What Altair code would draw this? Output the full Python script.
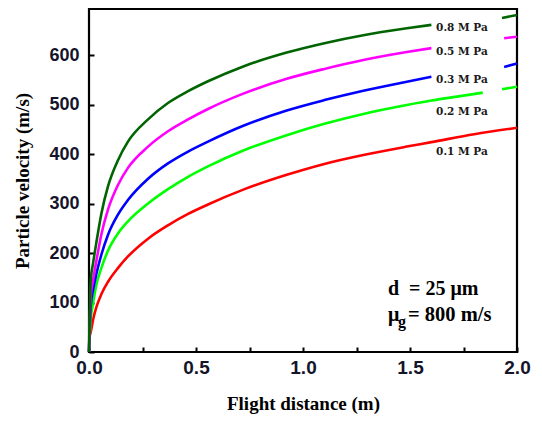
import altair as alt
import pandas as pd

# ---- data ----
series_names = ["0.1 M Pa", "0.2 M Pa", "0.3 M Pa", "0.5 M Pa", "0.8 M Pa"]
series_colors = ["#ff0000", "#00ff00", "#0000ff", "#ff00ff", "#006400"]

dist = [0, 0.008, 0.019, 0.034, 0.058, 0.089, 0.136, 0.182, 0.276, 0.369,
        0.463, 0.556, 0.721, 0.924, 1.1, 1.282, 1.485, 1.6]

v_01 = [30, 40, 65, 90, 117, 142, 170, 193, 229, 256, 279, 298, 328, 358, 380, 398, 415, 424]
v_02 = [0, 65, 98, 135, 170, 205, 240, 264, 300, 329, 354, 375, 407, 438, 461, 481, 499, 508]
v_03 = [0, 92, 125, 157, 197, 237, 278, 307, 350, 381, 405, 425, 457, 488, 509, 528, 546, 556]
v_05 = [0, 112, 145, 183, 238, 288, 338, 372, 415, 446, 470, 491, 522, 552, 572, 590, 606, 614]
v_08 = [0, 145, 179, 220, 280, 335, 388, 425, 470, 503, 527, 547, 577, 605, 624, 640, 654, 661]

# continuation of each curve (same segment) and the short end piece after the label gap
cont_x = {"0.1 M Pa": [1.8, 2.0], "0.2 M Pa": [1.72, 1.84],
          "0.3 M Pa": [], "0.5 M Pa": [], "0.8 M Pa": []}
cont_v = {"0.1 M Pa": [440, 453], "0.2 M Pa": [516, 524],
          "0.3 M Pa": [], "0.5 M Pa": [], "0.8 M Pa": []}
tail_x = {"0.1 M Pa": [], "0.2 M Pa": [1.93, 2.0], "0.3 M Pa": [1.94, 2.0],
          "0.5 M Pa": [1.94, 2.0], "0.8 M Pa": [1.93, 2.0]}
tail_v = {"0.1 M Pa": [], "0.2 M Pa": [531, 536], "0.3 M Pa": [576, 583],
          "0.5 M Pa": [634, 637], "0.8 M Pa": [675, 681]}

label_y = [404, 485, 549, 606, 655]

x_ticks = [0, 0.25, 0.5, 0.75, 1.0, 1.25, 1.5, 1.75, 2.0]
y_ticks = list(range(0, 700, 50))

# ---- build table ----
rows = []
for name, vals in zip(series_names, [v_01, v_02, v_03, v_05, v_08]):
    for xx, vv in zip(dist + cont_x[name], vals + cont_v[name]):
        rows.append({"series": name, "seg": name + "a", "x": xx, "v": vv})
    for xx, vv in zip(tail_x[name], tail_v[name]):
        rows.append({"series": name, "seg": name + "b", "x": xx, "v": vv})
df = pd.DataFrame(rows)

labels_df = pd.DataFrame({"series": series_names, "x": [1.622] * 5, "v": label_y})

tick_color = "#14142a"
xscale = alt.Scale(domain=[0, 2], nice=False, zero=False)
yscale = alt.Scale(domain=[0, 693], nice=False)
cscale = alt.Scale(domain=series_names, range=series_colors)

lines = alt.Chart(df).mark_line(strokeWidth=2.6, interpolate="monotone").encode(
    x=alt.X("x:Q", scale=xscale,
            axis=alt.Axis(values=x_ticks, format=".1f", tickSize=5, offset=-5,
                          labelExpr="datum.value % 0.5 == 0 ? datum.label : ''",
                          domain=False, grid=False, tickColor="black", tickWidth=2,
                          labelFont="Liberation Sans", labelFontWeight="bold",
                          labelFontSize=19, labelColor=tick_color, labelPadding=6,
                          labelFlush=False,
                          title="Flight distance (m)", titleFont="Liberation Serif",
                          titleFontWeight="bold", titleFontSize=19, titleColor="black",
                          titlePadding=17)),
    y=alt.Y("v:Q", scale=yscale,
            axis=alt.Axis(values=y_ticks, tickSize=5, offset=-5,
                          labelExpr="datum.value % 100 == 0 ? datum.label : ''",
                          domain=False, grid=False, tickColor="black", tickWidth=2,
                          labelFont="Liberation Sans", labelFontWeight="bold",
                          labelFontSize=18, labelColor=tick_color, labelPadding=10,
                          labelFlush=False,
                          title="Particle velocity (m/s)", titleFont="Liberation Serif",
                          titleFontWeight="bold", titleFontSize=19, titleColor="black",
                          titlePadding=16)),
    color=alt.Color("series:N", scale=cscale, legend=None),
    detail="seg:N",
)

series_text = alt.Chart(labels_df).mark_text(
    align="left", baseline="middle", font="DejaVu Serif", fontWeight="bold",
    fontSize=10.5, color="#1a1a1a"
).encode(x=alt.X("x:Q", scale=xscale), y=alt.Y("v:Q", scale=yscale), text="series:N")

ann_font = dict(font="Liberation Serif", fontWeight="bold", color="black",
                align="left", baseline="alphabetic")
ann_df = pd.DataFrame({"t": [0]})
ann1 = alt.Chart(ann_df).mark_text(fontSize=20, **ann_font).encode(
    x=alt.value(299), y=alt.value(286), text=alt.value("d\u00a0\u00a0= 25 μm"))
ann2 = alt.Chart(ann_df).mark_text(fontSize=20, **ann_font).encode(
    x=alt.value(299), y=alt.value(312), text=alt.value("μ"))
ann3 = alt.Chart(ann_df).mark_text(fontSize=16, **ann_font).encode(
    x=alt.value(309), y=alt.value(318), text=alt.value("g"))
ann4 = alt.Chart(ann_df).mark_text(fontSize=20.5, **ann_font).encode(
    x=alt.value(319), y=alt.value(312), text=alt.value("= 800 m/s"))

chart = alt.layer(lines, series_text, ann1, ann2, ann3, ann4).properties(
    width=428, height=343,
    autosize=alt.AutoSizeParams(type="none"),
    padding={"left": 89, "top": 9, "right": 25, "bottom": 72},
    background="white",
).configure_view(stroke="black", strokeWidth=2.2)

chart.save("out.html", embed_options={"renderer": "svg", "actions": False})
